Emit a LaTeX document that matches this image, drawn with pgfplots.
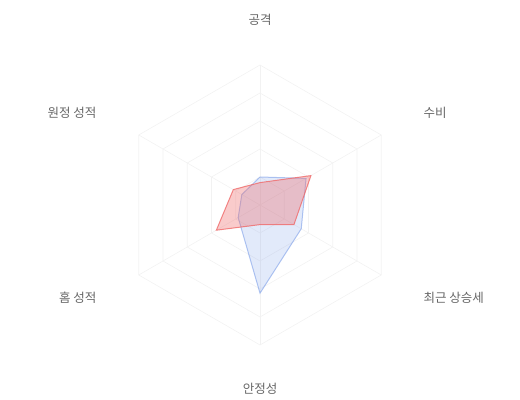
\documentclass[border=0pt]{standalone}
\usepackage{fontspec}
\setmainfont{Noto Sans CJK KR}
\usepackage{pgfplots}
\pgfplotsset{compat=1.18}
\definecolor{lbl}{HTML}{666666}
\definecolor{gridc}{HTML}{F2F2F2}
\definecolor{redc}{HTML}{EF6A6A}
\definecolor{bluec}{HTML}{7C9EE8}
\begin{document}
\begin{tikzpicture}
\begin{axis}[
    scale only axis,
    width=520bp, height=400bp,
    hide axis,
    clip=false,
    xmin=-185.71, xmax=185.71,
    ymin=-139.29, ymax=146.43,
    every axis plot/.append style={data cs=polar},
    ]
% grid
\addplot[gridc, line width=0.6pt] coordinates {(90,20) (30,20) (-30,20) (-90,20) (-150,20) (150,20) (90,20)};
\addplot[gridc, line width=0.6pt] coordinates {(90,40) (30,40) (-30,40) (-90,40) (-150,40) (150,40) (90,40)};
\addplot[gridc, line width=0.6pt] coordinates {(90,60) (30,60) (-30,60) (-90,60) (-150,60) (150,60) (90,60)};
\addplot[gridc, line width=0.6pt] coordinates {(90,80) (30,80) (-30,80) (-90,80) (-150,80) (150,80) (90,80)};
\addplot[gridc, line width=0.6pt] coordinates {(90,100) (30,100) (-30,100) (-90,100) (-150,100) (150,100) (90,100)};
\addplot[gridc, line width=0.6pt] coordinates {(90,0) (90,100)};
\addplot[gridc, line width=0.6pt] coordinates {(30,0) (30,100)};
\addplot[gridc, line width=0.6pt] coordinates {(-30,0) (-30,100)};
\addplot[gridc, line width=0.6pt] coordinates {(-90,0) (-90,100)};
\addplot[gridc, line width=0.6pt] coordinates {(-150,0) (-150,100)};
\addplot[gridc, line width=0.6pt] coordinates {(150,0) (150,100)};
% series
\addplot[bluec, line width=1pt, fill=bluec, fill opacity=0.22, draw opacity=0.6]
  coordinates {(90,20) (30,38) (-30,34) (-90,63) (-150,18) (150,15) (90,20)};
\addplot[redc, line width=1pt, fill=redc, fill opacity=0.35, draw opacity=0.8]
  coordinates {(90,16) (30,42) (-30,28) (-90,14) (-150,36) (150,22) (90,16)};
% labels
\path (axis cs:-185.71,-139.29) rectangle (axis cs:185.71,146.43);
\node[lbl, font=\fontsize{12.5bp}{14bp}\selectfont, anchor=center] at (axis cs:0,132) {공격};
\node[lbl, font=\fontsize{12.5bp}{14bp}\selectfont, anchor=west] at (axis cs:114.3,66) {수비};
\node[lbl, font=\fontsize{12.5bp}{14bp}\selectfont, anchor=west] at (axis cs:114.3,-66) {최근 상승세};
\node[lbl, font=\fontsize{12.5bp}{14bp}\selectfont, anchor=center] at (axis cs:0,-131) {안정성};
\node[lbl, font=\fontsize{12.5bp}{14bp}\selectfont, anchor=east] at (axis cs:-114.3,-66) {홈 성적};
\node[lbl, font=\fontsize{12.5bp}{14bp}\selectfont, anchor=east] at (axis cs:-114.3,66) {원정 성적};
\end{axis}
\end{tikzpicture}
\end{document}
